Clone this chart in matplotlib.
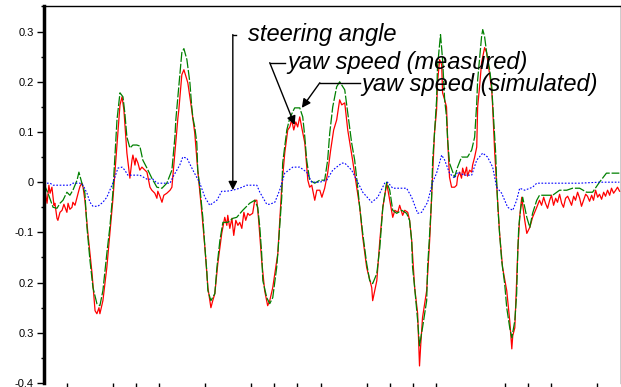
import matplotlib
matplotlib.use("Agg")
import matplotlib.pyplot as plt
from matplotlib.ticker import MultipleLocator

# steering angle (blue)
t_steer = [0.0, 0.28, 0.41, 0.71, 1.14, 1.27, 1.58, 1.71, 1.88, 2.01, 2.14, 2.35, 2.57, 2.74, 2.87,
           3.00, 3.09, 3.22, 3.40, 3.52, 3.65, 3.87, 4.17, 4.48, 4.74, 4.91, 5.48, 5.60, 5.90, 6.03,
           6.21, 6.47, 6.77, 6.99, 7.20, 7.51, 7.72, 7.94, 8.20, 8.50, 8.80, 9.24, 9.37, 9.67, 9.80,
           10.02, 10.23, 10.45, 10.80, 11.10, 11.40, 11.62, 11.97, 12.27, 12.53, 12.92, 13.05, 13.35,
           13.57, 13.83, 14.22, 14.48, 14.78, 14.91, 15.13, 15.73, 15.95, 16.21, 16.38, 16.64, 16.86,
           17.03, 17.25, 17.38, 17.59, 17.81, 17.94, 18.24, 18.55, 18.77, 19.03, 19.24, 19.46, 19.63,
           19.85, 20.11, 20.33, 20.50, 20.63, 20.85, 21.19, 21.37, 22.36, 23.23, 24.09, 24.95]
steer = [-0.002, -0.002, -0.006, -0.006, -0.006, -0.002, -0.002, -0.006, -0.022, -0.040, -0.048, -0.048,
         -0.040, -0.030, -0.016, -0.002, 0.010, 0.028, 0.030, 0.024, 0.014, 0.014, 0.014, 0.006, 0.006,
         -0.002, -0.002, 0.010, 0.034, 0.050, 0.048, 0.024, -0.002, -0.030, -0.046, -0.036, -0.018,
         -0.018, -0.016, -0.012, -0.006, -0.006, -0.020, -0.044, -0.044, -0.040, -0.016, 0.018, 0.030,
         0.030, 0.020, 0.000, 0.000, 0.004, 0.024, 0.038, 0.038, 0.024, 0.004, -0.020, -0.040, -0.030,
         -0.002, 0.000, -0.012, -0.012, -0.030, -0.062, -0.060, -0.040, 0.000, 0.018, 0.054, 0.044,
         0.018, 0.008, 0.020, 0.014, 0.014, 0.044, 0.058, 0.050, 0.030, -0.010, -0.022, -0.050, -0.056,
         -0.036, -0.012, -0.016, -0.010, -0.002, -0.002, -0.002, 0.000, 0.000]

# yaw speed, simulated (green)
t_sim = [0.0, 0.19, 0.41, 0.58, 0.71, 0.84, 1.01, 1.14, 1.27, 1.45, 1.53, 1.66, 1.79, 1.88, 2.01, 2.14,
         2.31, 2.44, 2.57, 2.74, 2.87, 3.00, 3.09, 3.18, 3.31, 3.44, 3.52, 3.61, 3.74, 3.87, 4.04, 4.17,
         4.30, 4.48, 4.69, 4.91, 5.13, 5.34, 5.56, 5.69, 5.73, 5.82, 5.90, 5.99, 6.08, 6.21, 6.25, 6.34,
         6.42, 6.47, 6.55, 6.64, 6.68, 6.77, 6.90, 6.99, 7.07, 7.12, 7.25, 7.42, 7.51, 7.64, 7.77, 7.98,
         8.20, 8.37, 8.63, 8.93, 9.15, 9.28, 9.37, 9.45, 9.50, 9.67, 9.80, 9.93, 10.10, 10.15, 10.23,
         10.32, 10.36, 10.54, 10.67, 10.88, 11.10, 11.23, 11.32, 11.40, 11.53, 11.75, 11.97, 12.18,
         12.31, 12.40, 12.53, 12.70, 12.83, 13.05, 13.18, 13.35, 13.48, 13.61, 13.70, 13.83, 14.00,
         14.13, 14.26, 14.44, 14.57, 14.70, 14.87, 15.00, 15.13, 15.30, 15.52, 15.73, 15.86, 15.95,
         15.99, 16.08, 16.21, 16.29, 16.42, 16.60, 16.64, 16.73, 16.81, 16.86, 16.94, 17.03, 17.07,
         17.20, 17.29, 17.38, 17.46, 17.51, 17.59, 17.81, 17.94, 18.11, 18.37, 18.55, 18.68, 18.77,
         18.81, 18.90, 18.98, 19.03, 19.11, 19.20, 19.33, 19.42, 19.46, 19.55, 19.59, 19.63, 19.68,
         19.76, 19.85, 19.98, 20.07, 20.20, 20.29, 20.42, 20.50, 20.55, 20.59, 20.68, 20.76, 20.94,
         21.07, 21.19, 21.37, 21.49, 22.06, 22.36, 22.67, 22.92, 23.23, 23.53, 23.79, 24.09, 24.39, 24.95]
yaw_sim = [-0.002, -0.022, -0.050, -0.052, -0.042, -0.036, -0.020, -0.026, -0.016, 0.004, 0.020, -0.002,
           -0.022, -0.090, -0.156, -0.210, -0.242, -0.246, -0.216, -0.142, -0.090, -0.022, 0.050, 0.124,
           0.178, 0.170, 0.138, 0.090, 0.068, 0.074, 0.074, 0.072, 0.044, 0.028, 0.008, -0.010, -0.012,
           -0.002, 0.024, 0.090, 0.124, 0.170, 0.210, 0.258, 0.266, 0.244, 0.230, 0.198, 0.150, 0.128,
           0.110, 0.078, 0.024, -0.010, -0.070, -0.130, -0.176, -0.216, -0.236, -0.222, -0.170, -0.116,
           -0.080, -0.080, -0.072, -0.070, -0.056, -0.042, -0.036, -0.050, -0.090, -0.142, -0.196, -0.230,
           -0.242, -0.230, -0.170, -0.142, -0.090, -0.030, 0.038, 0.104, 0.128, 0.148, 0.148, 0.130,
           0.090, 0.044, 0.004, -0.002, 0.004, 0.004, 0.044, 0.098, 0.150, 0.190, 0.200, 0.184, 0.138,
           0.078, 0.044, -0.010, -0.050, -0.102, -0.162, -0.196, -0.202, -0.182, -0.130, -0.050, 0.000,
           -0.016, -0.056, -0.062, -0.056, -0.062, -0.076, -0.116, -0.170, -0.210, -0.276, -0.326, -0.290,
           -0.236, -0.170, -0.102, -0.036, 0.044, 0.098, 0.164, 0.230, 0.294, 0.244, 0.164, 0.130, 0.084,
           0.038, 0.010, 0.030, 0.050, 0.050, 0.064, 0.090, 0.158, 0.204, 0.250, 0.290, 0.304, 0.290,
           0.258, 0.224, 0.190, 0.158, 0.090, 0.058, 0.004, -0.046, -0.102, -0.156, -0.202, -0.250,
           -0.290, -0.310, -0.276, -0.222, -0.136, -0.090, -0.050, -0.030, -0.070, -0.090, -0.062,
           -0.036, -0.026, -0.026, -0.016, -0.016, -0.012, -0.012, -0.020, -0.020, 0.000, 0.018, 0.018]

# yaw speed, measured (red)
t_meas = [0.0, 0.06, 0.15, 0.23, 0.28, 0.36, 0.45, 0.49, 0.58, 0.62, 0.71, 0.80, 0.88, 0.93, 1.01, 1.06,
          1.14, 1.23, 1.27, 1.36, 1.45, 1.53, 1.58, 1.66, 1.71, 1.79, 1.92, 2.10, 2.23, 2.31, 2.40, 2.44,
          2.57, 2.74, 2.87, 3.00, 3.13, 3.22, 3.31, 3.40, 3.48, 3.61, 3.70, 3.74, 3.83, 3.87, 3.96, 4.00,
          4.09, 4.17, 4.26, 4.39, 4.48, 4.61, 4.69, 4.82, 4.91, 4.95, 5.04, 5.13, 5.21, 5.34, 5.48, 5.56,
          5.69, 5.82, 5.86, 5.99, 6.08, 6.16, 6.25, 6.34, 6.42, 6.55, 6.68, 6.86, 6.99, 7.12, 7.25, 7.33,
          7.42, 7.55, 7.72, 7.85, 7.94, 7.98, 8.07, 8.16, 8.24, 8.33, 8.42, 8.50, 8.59, 8.68, 8.76, 8.85,
          8.93, 9.06, 9.15, 9.24, 9.32, 9.45, 9.58, 9.71, 9.80, 9.93, 10.15, 10.32, 10.45, 10.58, 10.67,
          10.75, 10.84, 10.93, 11.01, 11.10, 11.19, 11.32, 11.45, 11.53, 11.62, 11.75, 11.84, 11.97,
          12.06, 12.18, 12.31, 12.44, 12.57, 12.70, 12.83, 12.92, 13.05, 13.18, 13.39, 13.57, 13.70,
          13.83, 14.00, 14.22, 14.26, 14.44, 14.57, 14.70, 14.87, 15.00, 15.13, 15.22, 15.35, 15.43,
          15.56, 15.65, 15.78, 15.86, 15.95, 16.08, 16.21, 16.29, 16.34, 16.42, 16.60, 16.73, 16.86,
          16.94, 17.03, 17.07, 17.16, 17.25, 17.29, 17.38, 17.46, 17.51, 17.59, 17.68, 17.81, 17.90,
          17.94, 18.03, 18.11, 18.16, 18.24, 18.33, 18.37, 18.46, 18.55, 18.59, 18.68, 18.77, 18.81,
          18.90, 18.98, 19.11, 19.20, 19.24, 19.33, 19.42, 19.46, 19.55, 19.63, 19.76, 19.89, 20.07,
          20.20, 20.29, 20.33, 20.42, 20.55, 20.63, 20.72, 20.85, 20.94, 21.07, 21.19, 21.37, 21.49,
          21.58, 21.67, 21.75, 21.84, 21.93, 22.01, 22.10, 22.19, 22.27, 22.36, 22.45, 22.53, 22.62,
          22.71, 22.79, 22.88, 22.97, 23.05, 23.14, 23.23, 23.31, 23.40, 23.49, 23.57, 23.66, 23.75,
          23.83, 23.92, 24.01, 24.09, 24.18, 24.27, 24.35, 24.44, 24.53, 24.61, 24.70, 24.79, 24.87, 24.96]
yaw_meas = [-0.036, -0.016, -0.042, -0.006, -0.022, -0.010, -0.046, -0.042, -0.072, -0.076, -0.060,
            -0.056, -0.044, -0.050, -0.060, -0.042, -0.054, -0.050, -0.040, -0.046, -0.030, -0.016,
            -0.008, -0.002, -0.010, -0.036, -0.102, -0.182, -0.256, -0.262, -0.250, -0.262, -0.236,
            -0.170, -0.102, -0.036, 0.044, 0.098, 0.154, 0.170, 0.144, 0.058, 0.024, 0.008, 0.044, 0.054,
            0.034, 0.048, 0.038, 0.024, 0.030, 0.024, 0.020, -0.010, -0.016, -0.022, -0.032, -0.018,
            -0.028, -0.040, -0.026, -0.022, -0.016, -0.010, 0.058, 0.128, 0.144, 0.214, 0.224, 0.212,
            0.198, 0.170, 0.144, 0.098, 0.024, -0.062, -0.130, -0.210, -0.250, -0.236, -0.222, -0.162,
            -0.102, -0.070, -0.086, -0.066, -0.092, -0.072, -0.106, -0.076, -0.086, -0.080, -0.092,
            -0.060, -0.076, -0.062, -0.066, -0.062, -0.036, -0.036, -0.076, -0.156, -0.216, -0.246,
            -0.236, -0.210, -0.142, -0.010, 0.058, 0.104, 0.110, 0.124, 0.104, 0.120, 0.110, 0.130, 0.108,
            0.078, 0.004, -0.010, -0.006, -0.036, -0.016, -0.016, -0.030, -0.012, 0.018, 0.064, 0.104,
            0.124, 0.164, 0.154, 0.158, 0.104, 0.044, -0.010, -0.050, -0.110, -0.170, -0.210, -0.236,
            -0.196, -0.116, -0.050, -0.002, -0.036, -0.070, -0.056, -0.060, -0.046, -0.066, -0.056,
            -0.060, -0.076, -0.116, -0.210, -0.262, -0.366, -0.326, -0.270, -0.216, -0.116, 0.018, 0.098,
            0.144, 0.198, 0.244, 0.234, 0.178, 0.164, 0.150, 0.084, 0.010, -0.010, -0.010, -0.006, 0.010,
            0.020, 0.008, 0.028, 0.014, 0.030, 0.012, 0.024, 0.020, 0.034, 0.050, 0.070, 0.150, 0.194,
            0.238, 0.268, 0.258, 0.244, 0.214, 0.184, 0.150, 0.058, -0.002, -0.102, -0.170, -0.216,
            -0.276, -0.332, -0.306, -0.290, -0.136, -0.070, -0.030, -0.076, -0.102, -0.090, -0.070,
            -0.050, -0.036, -0.046, -0.030, -0.042, -0.052, -0.036, -0.026, -0.046, -0.032, -0.040,
            -0.024, -0.042, -0.050, -0.032, -0.028, -0.036, -0.046, -0.028, -0.036, -0.020, -0.032,
            -0.048, -0.036, -0.024, -0.028, -0.038, -0.026, -0.036, -0.016, -0.030, -0.024, -0.034,
            -0.020, -0.028, -0.016, -0.026, -0.012, -0.022, -0.016, -0.010, -0.018]

y_ticks = [-0.4, -0.3, -0.2, -0.1, 0.0, 0.1, 0.2, 0.3]
y_labels = ["-0.4", "0.3", "0.2", "-0.1", "0", "0.1", "0.2", "0.3"]
x_ticks = [1, 3, 4, 5, 7, 9, 10, 11, 12, 14, 15, 16, 17, 20, 21, 22, 24]

fig = plt.figure(figsize=(6.21, 3.87), dpi=100)
ax = fig.add_axes([0.0702, 0.0103, 0.929, 0.973])

ax.plot(t_meas, yaw_meas, color="#ff0000", lw=0.9)
ax.plot(t_sim, yaw_sim, color="#008000", lw=0.9, linestyle=(0, (8, 1.5)))
ax.plot(t_steer, steer, color="#0000ff", lw=0.8, linestyle=(0, (1.5, 1.5)))

ax.set_xlim(0, 25)
ax.set_ylim(-0.4, 0.35)
ax.set_yticks(y_ticks)
ax.set_yticklabels(y_labels)
ax.yaxis.set_minor_locator(MultipleLocator(0.05))
ax.set_xticks(x_ticks)
ax.set_xticklabels([])
ax.tick_params(axis="y", which="major", direction="out", length=5, width=1, pad=2,
               labelsize=8, labelfontfamily="Liberation Sans")
ax.tick_params(axis="y", which="minor", direction="out", length=2.5, width=1)
ax.tick_params(axis="x", direction="out", length=3, width=1)

ax.spines["bottom"].set_visible(False)
ax.spines["left"].set_linewidth(2.5)
ax.spines["top"].set_linewidth(1.0)
ax.spines["right"].set_linewidth(1.0)

txt = dict(fontsize=17, style="italic", family="Liberation Sans", va="center", ha="left")
ax.text(8.85, 0.294, "steering angle", **txt)
ax.text(10.58, 0.238, "yaw speed (measured)", **txt)
ax.text(13.78, 0.194, "yaw speed (simulated)", **txt)

arrow = dict(arrowstyle="-|>", color="black", lw=1.0, mutation_scale=13, shrinkA=0, shrinkB=0)
ax.plot([8.33, 8.20], [0.294, 0.294], color="black", lw=1.0)
ax.annotate("", xy=(8.20, -0.016), xytext=(8.20, 0.294), arrowprops=arrow)
ax.plot([10.45, 9.80], [0.238, 0.238], color="black", lw=1.0)
ax.annotate("", xy=(10.88, 0.114), xytext=(9.80, 0.238), arrowprops=arrow)
ax.plot([13.70, 11.97], [0.198, 0.198], color="black", lw=1.0)
ax.annotate("", xy=(11.19, 0.148), xytext=(11.97, 0.198), arrowprops=arrow)

fig.savefig("out.png", dpi=100)
